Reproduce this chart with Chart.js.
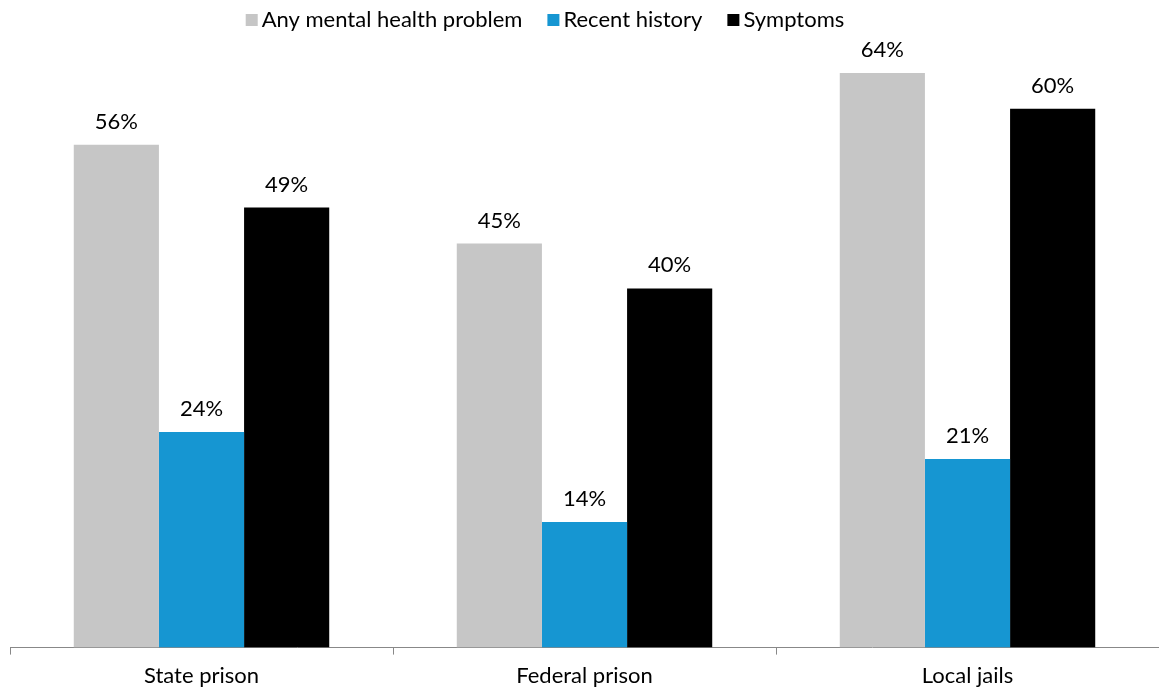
<!DOCTYPE html>
<html>
<head>
<meta charset="utf-8">
<script src="https://cdn.jsdelivr.net/npm/chart.js@4/dist/chart.umd.min.js"></script>
<style>
  html, body { margin: 0; padding: 0; background: #fff; overflow: hidden; }
  #wrap { width: 1159px; height: 697px; }
</style>
</head>
<body>
<div id="wrap"><canvas id="mhChart"></canvas></div>
<script>
// Dados
const categories = ['State prison', 'Federal prison', 'Local jails'];
const anyProblem = [56, 45, 64];
const recentHistory = [24, 14, 21];
const symptoms = [49, 40, 60];

Chart.defaults.font.family = 'Lato, "Open Sans", sans-serif';
Chart.defaults.color = '#000';

// Rótulos de valor acima das barras
const valueLabels = {
    id: 'valueLabels',
    afterDatasetsDraw(chart) {
        const ctx = chart.ctx;
        ctx.save();
        ctx.font = '22px Lato, sans-serif';
        ctx.fillStyle = '#000';
        ctx.textAlign = 'center';
        ctx.textBaseline = 'middle';
        chart.data.datasets.forEach((ds, i) => {
            chart.getDatasetMeta(i).data.forEach((bar, j) => {
                ctx.fillText(ds.data[j] + '%', bar.x, bar.y - 23);
            });
        });
        ctx.restore();
    }
};

// Legenda compacta no topo (caixa colada ao texto)
const topLegend = {
    id: 'topLegend',
    afterDraw(chart) {
        const ctx = chart.ctx;
        ctx.save();
        ctx.font = '22px Lato, sans-serif';
        ctx.textBaseline = 'middle';
        ctx.textAlign = 'left';
        const box = 12, gap = 4, itemGap = 25, y = 20;
        const items = chart.data.datasets.map(ds => ({ text: ds.label, color: ds.backgroundColor }));
        let total = 0;
        items.forEach((it, i) => {
            total += box + gap + ctx.measureText(it.text).width + (i < items.length - 1 ? itemGap : 0);
        });
        let x = 545 - total / 2;
        items.forEach(it => {
            ctx.fillStyle = it.color;
            ctx.fillRect(x, y - box / 2, box, box);
            x += box + gap;
            ctx.fillStyle = '#000';
            ctx.fillText(it.text, x, y);
            x += ctx.measureText(it.text).width + itemGap;
        });
        ctx.restore();
    }
};

const ctx = document.getElementById('mhChart').getContext('2d');
new Chart(ctx, {
    type: 'bar',
    data: {
        labels: categories,
        datasets: [
            { label: 'Any mental health problem', data: anyProblem, backgroundColor: '#c6c6c6' },
            { label: 'Recent history', data: recentHistory, backgroundColor: '#1696d2' },
            { label: 'Symptoms', data: symptoms, backgroundColor: '#000000' }
        ]
    },
    options: {
        responsive: true,
        maintainAspectRatio: false,
        animation: false,
        datasets: {
            bar: { categoryPercentage: 0.667, barPercentage: 1.0 }
        },
        layout: { padding: { left: 10, right: 0, top: 19, bottom: 0 } },
        scales: {
            x: {
                grid: { offset: true, drawOnChartArea: false, tickLength: 7, color: '#888' },
                border: { color: '#888' },
                ticks: { font: { size: 22 }, color: '#000', padding: 8 }
            },
            y: {
                display: false,
                min: 0,
                max: 70
            }
        },
        plugins: {
            legend: { display: false },
            tooltip: { enabled: false }
        }
    },
    plugins: [valueLabels, topLegend]
});
</script>
</body>
</html>
